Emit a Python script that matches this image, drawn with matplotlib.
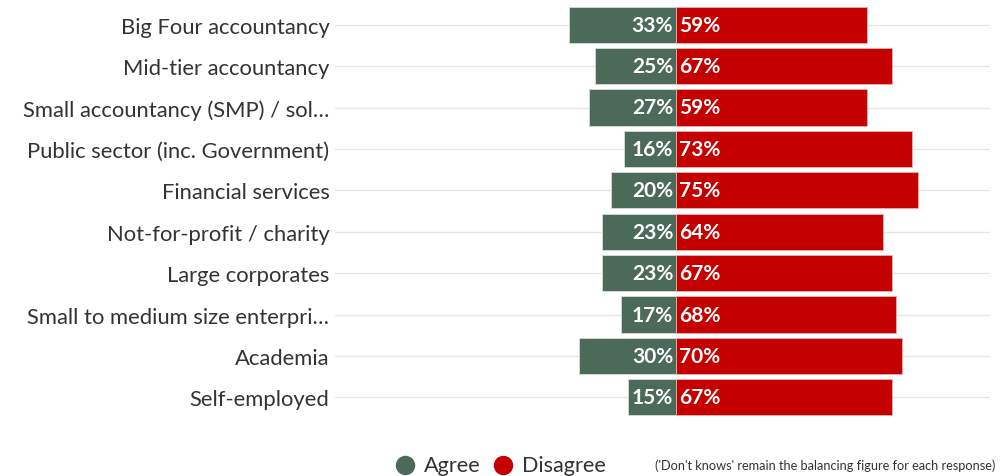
import matplotlib.pyplot as plt
from matplotlib.lines import Line2D

categories = ['Big Four accountancy', 'Mid-tier accountancy', 'Small accountancy (SMP) / sol…',
              'Public sector (inc. Government)', 'Financial services', 'Not-for-profit / charity',
              'Large corporates', 'Small to medium size enterpri…', 'Academia', 'Self-employed']
agree = [33, 25, 27, 16, 20, 23, 23, 17, 30, 15]
disagree = [59, 67, 59, 73, 75, 64, 67, 68, 70, 67]
series = ['Agree', 'Disagree']

agree_col = '#4b6a5a'
disagree_col = '#c40000'
text_col = '#333333'

plt.rcParams['font.family'] = ['Lato', 'DejaVu Sans']

W, H = 1004, 477
fig = plt.figure(figsize=(W / 100, H / 100), dpi=100)
ax = fig.add_axes([335 / W, 1 - 419 / H, 655 / W, 414 / H])

y = list(range(len(categories)))
for yi in y:
    ax.axhline(yi, color='#e6e6e6', lw=1, zorder=0)

ax.barh(y, [-a for a in agree], height=0.87, color=agree_col, edgecolor='#d8dcd9', lw=0.6, zorder=2)
ax.barh(y, disagree, height=0.87, color=disagree_col, edgecolor='#e8b0b0', lw=0.6, zorder=2)

for yi, a, d in zip(y, agree, disagree):
    ax.text(-0.9, yi, f'{a}%', ha='right', va='center', color='white',
            fontsize=15, fontweight='bold', zorder=3)
    ax.text(0.9, yi, f'{d}%', ha='left', va='center', color='white',
            fontsize=15, fontweight='bold', zorder=3)

ax.set_xlim(-105.6, 97.2)
ax.set_ylim(9.5, -0.5)
ax.set_yticks(y)
ax.set_yticklabels(categories, fontsize=15.8, color=text_col)
ax.tick_params(axis='y', length=0, pad=4)
ax.set_xticks([])
for s in ax.spines.values():
    s.set_visible(False)

# legend drawn by hand: dot + label for each series
ly = 1 - 466 / H
for x0, name, col in [(405, series[0], agree_col), (503, series[1], disagree_col)]:
    fig.add_artist(Line2D([x0 / W], [ly], marker='o', ms=13, color=col, ls='',
                          transform=fig.transFigure))
    fig.text((x0 + 19) / W, ly, name, fontsize=15.6, color=text_col, va='center', ha='left')

fig.text(655 / W, ly, "('Don't knows' remain the balancing figure for each response)",
         fontsize=9.2, color=text_col, va='center', ha='left')

fig.savefig('out.png', dpi=100)
